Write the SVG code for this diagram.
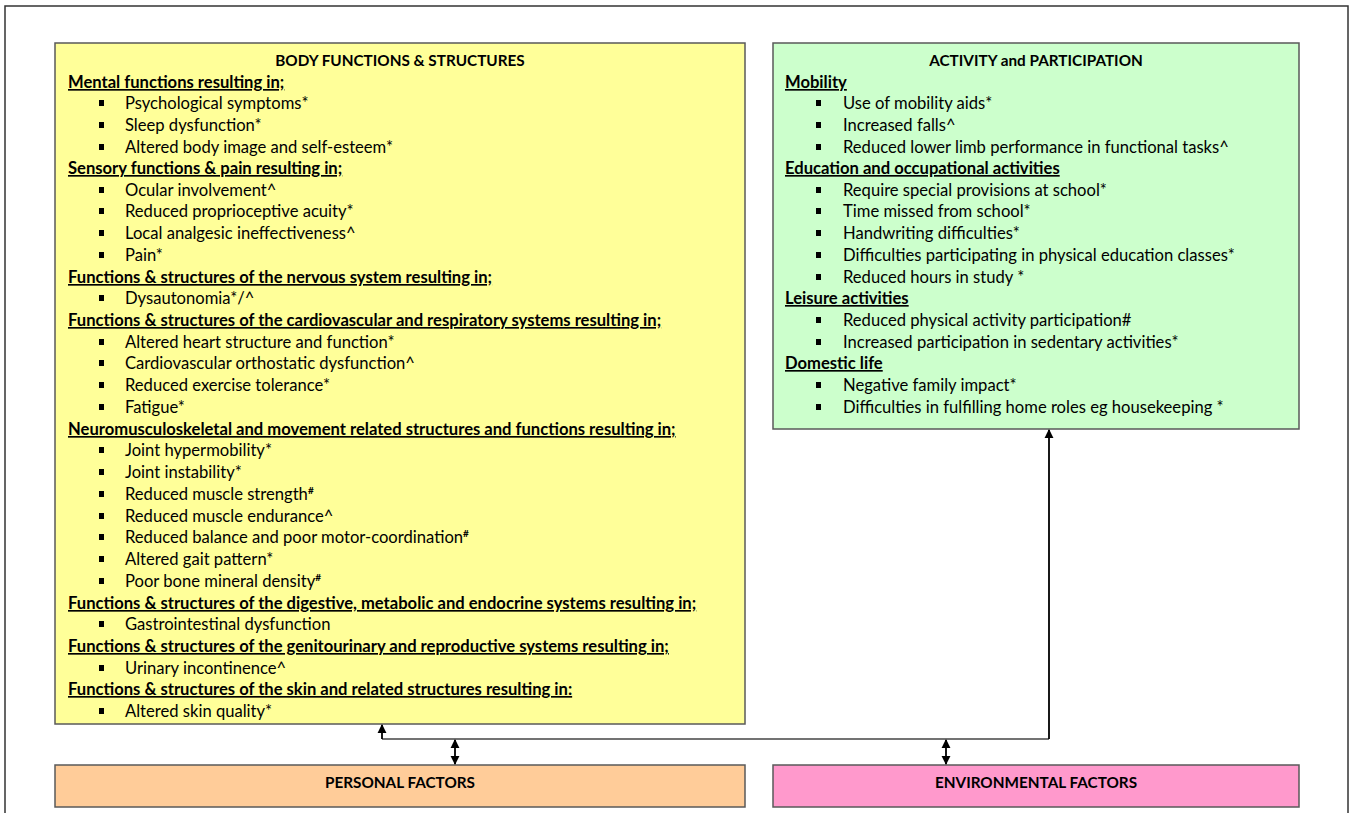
<svg xmlns="http://www.w3.org/2000/svg" width="1350" height="813" viewBox="0 0 1350 813">
<style>
.box{stroke:#5a5a5a;stroke-width:1.5}
text{font-family:Lato,"Liberation Sans",sans-serif;font-size:16.6px;fill:#000}
.t{font-weight:bold;text-anchor:middle;font-size:15.3px}
.h{font-weight:bold;text-decoration:underline}
.c{stroke:#000;stroke-width:1.8;fill:none}
.g{stroke:#444;stroke-width:1.5;fill:none}
.sup{font-size:10px;font-weight:bold}
</style>
<defs>
<marker id="ah" viewBox="0 0 10 10" refX="9" refY="5" markerWidth="9" markerHeight="10" markerUnits="userSpaceOnUse" orient="auto-start-reverse">
<path d="M0,0 L10,5 L0,10 z" fill="#000"/>
</marker>
<rect id="b" width="5" height="6" fill="#000"/>
</defs>
<rect x="5" y="6" width="1343" height="820" fill="#fff" stroke="#333" stroke-width="1.5"/>

<g id="body">
<rect class="box" x="55" y="43" width="690" height="681" fill="#FFFF99"/>
<text class="t" x="400" y="66">BODY FUNCTIONS &amp; STRUCTURES</text>
<text class="h" x="68" y="88">Mental functions resulting in;</text>
<use href="#b" x="99" y="100"/><text x="125" y="109">Psychological symptoms*</text>
<use href="#b" x="99" y="122"/><text x="125" y="131">Sleep dysfunction*</text>
<use href="#b" x="99" y="144"/><text x="125" y="153">Altered body image and self-esteem*</text>
<text class="h" x="68" y="174">Sensory functions &amp; pain resulting in;</text>
<use href="#b" x="99" y="187"/><text x="125" y="196">Ocular involvement^</text>
<use href="#b" x="99" y="208"/><text x="125" y="217">Reduced proprioceptive acuity*</text>
<use href="#b" x="99" y="230"/><text x="125" y="239">Local analgesic ineffectiveness^</text>
<use href="#b" x="99" y="252"/><text x="125" y="261">Pain*</text>
<text class="h" x="68" y="283">Functions &amp; structures of the nervous system resulting in;</text>
<use href="#b" x="99" y="295"/><text x="125" y="304">Dysautonomia*/^</text>
<text class="h" x="68" y="326">Functions &amp; structures of the cardiovascular and respiratory systems resulting in;</text>
<use href="#b" x="99" y="339"/><text x="125" y="348">Altered heart structure and function*</text>
<use href="#b" x="99" y="360"/><text x="125" y="369">Cardiovascular orthostatic dysfunction^</text>
<use href="#b" x="99" y="382"/><text x="125" y="391">Reduced exercise tolerance*</text>
<use href="#b" x="99" y="404"/><text x="125" y="413">Fatigue*</text>
<text class="h" x="68" y="435">Neuromusculoskeletal and movement related structures and functions resulting in;</text>
<use href="#b" x="99" y="447"/><text x="125" y="456">Joint hypermobility*</text>
<use href="#b" x="99" y="469"/><text x="125" y="478">Joint instability*</text>
<use href="#b" x="99" y="491"/><text x="125" y="500">Reduced muscle strength<tspan class="sup" dy="-6">#</tspan></text>
<use href="#b" x="99" y="513"/><text x="125" y="522">Reduced muscle endurance^</text>
<use href="#b" x="99" y="534"/><text x="125" y="543">Reduced balance and poor motor-coordination<tspan class="sup" dy="-6">#</tspan></text>
<use href="#b" x="99" y="556"/><text x="125" y="565">Altered gait pattern*</text>
<use href="#b" x="99" y="578"/><text x="125" y="587">Poor bone mineral density<tspan class="sup" dy="-6">#</tspan></text>
<text class="h" x="68" y="609">Functions &amp; structures of the digestive, metabolic and endocrine systems resulting in;</text>
<use href="#b" x="99" y="621"/><text x="125" y="630">Gastrointestinal dysfunction</text>
<text class="h" x="68" y="652">Functions &amp; structures of the genitourinary and reproductive systems resulting in;</text>
<use href="#b" x="99" y="665"/><text x="125" y="674">Urinary incontinence^</text>
<text class="h" x="68" y="695">Functions &amp; structures of the skin and related structures resulting in:</text>
<use href="#b" x="99" y="708"/><text x="125" y="717">Altered skin quality*</text>
</g>

<g id="activity">
<rect class="box" x="773" y="43" width="526" height="386" fill="#CCFFCC"/>
<text class="t" x="1036" y="66">ACTIVITY and PARTICIPATION</text>
<text class="h" x="785" y="88">Mobility</text>
<use href="#b" x="816" y="100"/><text x="843" y="109">Use of mobility aids*</text>
<use href="#b" x="816" y="122"/><text x="843" y="131">Increased falls^</text>
<use href="#b" x="816" y="144"/><text x="843" y="153">Reduced lower limb performance in functional tasks^</text>
<text class="h" x="785" y="174">Education and occupational activities</text>
<use href="#b" x="816" y="187"/><text x="843" y="196">Require special provisions at school*</text>
<use href="#b" x="816" y="208"/><text x="843" y="217">Time missed from school*</text>
<use href="#b" x="816" y="230"/><text x="843" y="239">Handwriting difficulties*</text>
<use href="#b" x="816" y="252"/><text x="843" y="261">Difficulties participating in physical education classes*</text>
<use href="#b" x="816" y="274"/><text x="843" y="283">Reduced hours in study *</text>
<text class="h" x="785" y="304">Leisure activities</text>
<use href="#b" x="816" y="317"/><text x="843" y="326">Reduced physical activity participation#</text>
<use href="#b" x="816" y="339"/><text x="843" y="348">Increased participation in sedentary activities*</text>
<text class="h" x="785" y="369">Domestic life</text>
<use href="#b" x="816" y="382"/><text x="843" y="391">Negative family impact*</text>
<use href="#b" x="816" y="404"/><text x="843" y="413">Difficulties in fulfilling home roles eg housekeeping *</text>
</g>

<g id="personal">
<rect class="box" x="55" y="765" width="690" height="42" fill="#FFCC99"/>
<text class="t" x="400" y="788">PERSONAL FACTORS</text>
</g>

<g id="environmental">
<rect class="box" x="773" y="765" width="526" height="42" fill="#FF99CC"/>
<text class="t" x="1036" y="788">ENVIRONMENTAL FACTORS</text>
</g>

<g id="connectors">
<polyline class="g" points="382,739 1049,739"/>
<line class="c" x1="382" y1="739" x2="382" y2="725" marker-end="url(#ah)"/>
<line class="c" x1="1049" y1="739" x2="1049" y2="430" marker-end="url(#ah)"/>
<line class="c" x1="455" y1="740" x2="455" y2="764" marker-start="url(#ah)" marker-end="url(#ah)"/>
<line class="c" x1="946" y1="740" x2="946" y2="764" marker-start="url(#ah)" marker-end="url(#ah)"/>
</g>
</svg>
